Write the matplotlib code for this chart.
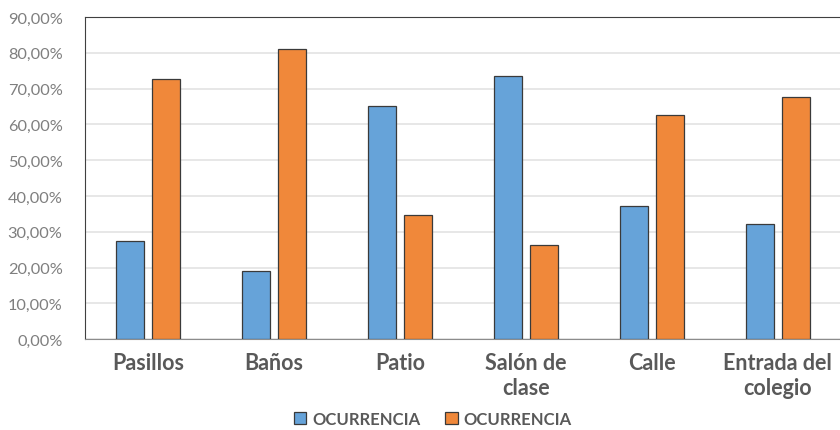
import numpy as np
import matplotlib.pyplot as plt
from matplotlib.ticker import FuncFormatter

# data (percent)
lugares = ['Pasillos', 'Baños', 'Patio', 'Salón de\nclase', 'Calle', 'Entrada del\ncolegio']
ocurrencia_1 = [27.3, 19.0, 65.2, 73.6, 37.3, 32.3]
ocurrencia_2 = [72.7, 81.0, 34.8, 26.4, 62.7, 67.7]
y_ticks = [0, 10, 20, 30, 40, 50, 60, 70, 80, 90]

plt.rcParams['font.family'] = ['Lato', 'DejaVu Sans']

fig = plt.figure(figsize=(8.4, 4.31), dpi=100)
ax = fig.add_axes([0.101, 0.211, 0.9, 0.747])

x = np.arange(len(lugares))
w = 0.225
off = 0.143
ax.bar(x - off, ocurrencia_1, w, color='#66A3D9', edgecolor='#3a3a3a', linewidth=0.9,
       label='OCURRENCIA', zorder=3)
ax.bar(x + off, ocurrencia_2, w, color='#F0883A', edgecolor='#3a3a3a', linewidth=0.9,
       label='OCURRENCIA', zorder=3)

ax.set_xlim(-0.5, len(lugares) - 0.5)
ax.set_ylim(0, 90)
ax.set_yticks(y_ticks)
ax.yaxis.set_major_formatter(FuncFormatter(lambda v, p: f"{v:.2f}".replace('.', ',') + '%'))
ax.grid(axis='y', color='#e3e3e3', linewidth=1.2, zorder=0)

ax.set_xticks(x)
ax.set_xticklabels(lugares, fontsize=15.5, fontweight='bold', color='#595959', linespacing=1.25)
ax.tick_params(axis='x', length=0, pad=9)
ax.tick_params(axis='y', length=0, pad=16, labelsize=11.8, labelcolor='#7f7f7f')

ax.spines['right'].set_visible(False)
ax.spines['left'].set_color('#404040')
ax.spines['top'].set_color('#404040')
ax.spines['bottom'].set_color('#8c8c8c')

leg = fig.legend(loc='center', bbox_to_anchor=(0.515, 0.026), ncol=2, frameon=False,
                 fontsize=12, handlelength=0.75, handleheight=0.75, columnspacing=1.5,
                 handletextpad=0.35, borderpad=0.2)
for t in leg.get_texts():
    t.set_color('#595959')
    t.set_fontweight('bold')

fig.savefig('out.png', dpi=100)
